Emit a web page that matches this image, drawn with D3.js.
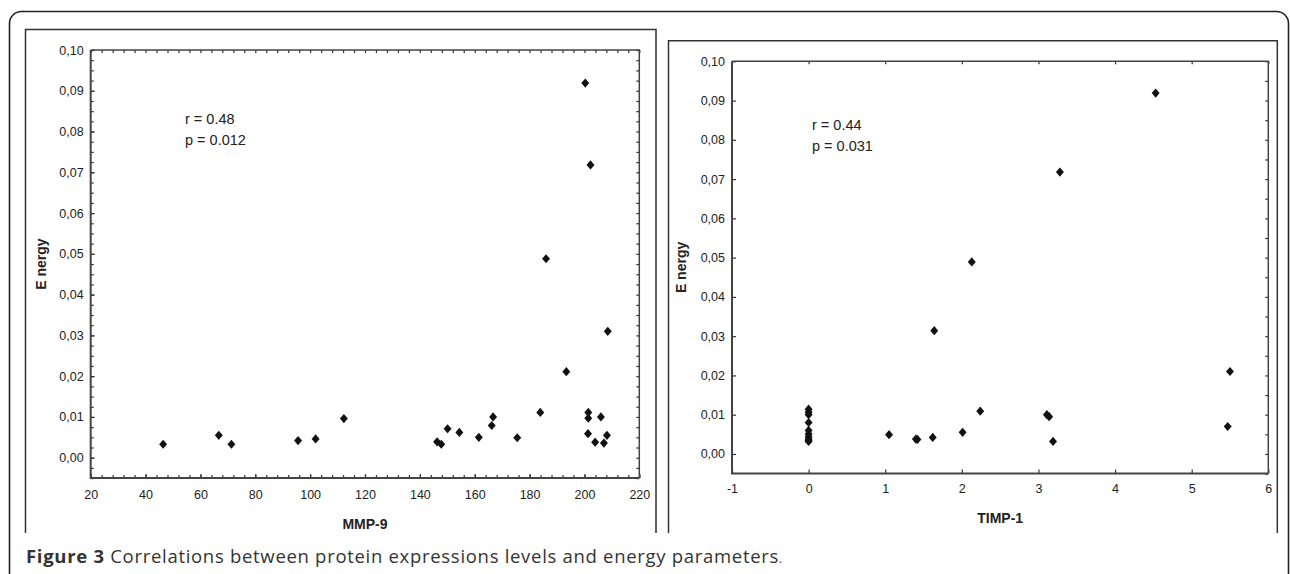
<!DOCTYPE html>
<html>
<head>
<meta charset="utf-8">
<script src="https://cdn.jsdelivr.net/npm/d3@7"></script>
<style>
  body { margin: 0; background: #fff; }
  svg { display: block; }
  .tick text { font-family: "Liberation Sans", Arial, sans-serif; font-size: 12.5px; fill: #222; }
  .tick line { stroke: #333; stroke-width: 1.2; }
</style>
</head>
<body>
<svg width="1290" height="574"></svg>
<script>
// MMP-9 vs energy (left panel)
var mmp9 = [46.4, 66.7, 71.3, 95.6, 102.0, 112.3, 146.3, 147.8, 150.1, 154.4, 161.5, 166.2, 166.7, 175.5,
  183.9, 193.4, 201.4, 201.4, 201.3, 203.9, 206.0, 207.1, 208.2, 208.5, 200.3, 202.2, 186.0];
var energyA = [0.0033, 0.0055, 0.0033, 0.0042, 0.0046, 0.0096, 0.0039, 0.0033, 0.0071, 0.0062, 0.0050, 0.0079, 0.0100, 0.0049,
  0.0111, 0.0211, 0.0111, 0.0097, 0.0059, 0.0038, 0.0100, 0.0036, 0.0055, 0.0310, 0.0919, 0.0718, 0.0488];

// TIMP-1 vs energy (right panel)
var timp1 = [0, 0, 0, 0, 0, 0, 0, 0, 0, 0,
  1.05, 1.40, 1.42, 1.62, 1.64, 2.01, 2.13, 2.24, 3.11, 3.14, 3.19, 3.28, 4.53, 5.47, 5.50];
var energyB = [0.0114, 0.0106, 0.0100, 0.0080, 0.0060, 0.0051, 0.0044, 0.0038, 0.0034, 0.0032,
  0.0049, 0.0038, 0.0037, 0.0042, 0.0314, 0.0055, 0.0489, 0.0109, 0.0100, 0.0095, 0.0032, 0.0718, 0.0919, 0.0070, 0.0210];

var yTicks = [0, 0.01, 0.02, 0.03, 0.04, 0.05, 0.06, 0.07, 0.08, 0.09, 0.10];
var xTicksA = [20, 40, 60, 80, 100, 120, 140, 160, 180, 200, 220];
var xTicksB = [-1, 0, 1, 2, 3, 4, 5, 6];

var statsA = ['r = 0.48', 'p = 0.012'];
var statsB = ['r = 0.44', 'p = 0.031'];

var svg = d3.select('svg');
var commaFmt = function (d) { return d3.format('.2f')(d).replace('.', ','); };

// outer rounded border + panel frames (open at the bottom)
svg.append('rect')
  .attr('x', 9.5).attr('y', 11.5).attr('width', 1279).attr('height', 620).attr('rx', 12)
  .attr('fill', 'none').attr('stroke', '#222').attr('stroke-width', 1.6);
svg.append('path').attr('d', 'M25.5,533V29.5H656V533')
  .attr('fill', 'none').attr('stroke', '#333').attr('stroke-width', 1.5);
svg.append('path').attr('d', 'M668.5,533V40.7H1277.3V533')
  .attr('fill', 'none').attr('stroke', '#333').attr('stroke-width', 1.5);

// diamond marker
var diamond = {
  draw: function (ctx, size) {
    var r = Math.sqrt(size) / 2;
    ctx.moveTo(0, -r * 1.1); ctx.lineTo(r * 0.95, 0); ctx.lineTo(0, r * 1.1); ctx.lineTo(-r * 0.95, 0); ctx.closePath();
  }
};
var sym = d3.symbol().type(diamond).size(70);

function drawPlot(cfg) {
  var x = cfg.x, y = cfg.y;
  var x0 = x.range()[0], x1 = x.range()[1], yb = y.range()[0], yt = y.range()[1];
  var g = svg.append('g');

  // major axes with labels, inward ticks
  g.append('g').attr('transform', 'translate(' + x0 + ',0)')
    .call(d3.axisLeft(y).tickValues(yTicks).tickFormat(commaFmt).tickSizeInner(-4).tickSizeOuter(0).tickPadding(7))
    .call(function (s) { s.select('.domain').remove(); });
  g.append('g').attr('transform', 'translate(0,' + yb + ')')
    .call(d3.axisBottom(x).tickValues(cfg.xTicks).tickFormat(function (d) { return String(d); })
      .tickSizeInner(-4).tickSizeOuter(0).tickPadding(cfg.xPad))
    .call(function (s) { s.select('.domain').remove(); });
  g.append('g').attr('transform', 'translate(0,' + yt + ')')
    .call(d3.axisTop(x).tickValues(cfg.topTicks).tickFormat('').tickSize(-3).tickSizeOuter(0))
    .call(function (s) { s.select('.domain').remove(); });
  g.append('g').attr('transform', 'translate(' + x1 + ',0)')
    .call(d3.axisRight(y).tickValues(cfg.rightTicks).tickFormat('').tickSize(-3).tickSizeOuter(0))
    .call(function (s) { s.select('.domain').remove(); });
  if (cfg.minorY) {
    g.append('g').attr('transform', 'translate(' + x0 + ',0)')
      .call(d3.axisLeft(y).tickValues(cfg.minorY).tickFormat('').tickSize(-3).tickSizeOuter(0))
      .call(function (s) { s.select('.domain').remove(); });
  }
  if (cfg.minorX) {
    g.append('g').attr('transform', 'translate(0,' + yb + ')')
      .call(d3.axisBottom(x).tickValues(cfg.minorX).tickFormat('').tickSize(-3).tickSizeOuter(0))
      .call(function (s) { s.select('.domain').remove(); });
  }

  // plot frame
  g.append('path')
    .attr('d', 'M' + x0 + ',' + yt + 'H' + x1 + 'V' + yb)
    .attr('fill', 'none').attr('stroke', '#444').attr('stroke-width', 1.5);
  g.append('path')
    .attr('d', 'M' + x0 + ',' + yt + 'V' + yb + 'H' + x1)
    .attr('fill', 'none').attr('stroke', '#444').attr('stroke-width', 2);

  // points
  g.selectAll('path.pt')
    .data(cfg.xs.map(function (v, i) { return [v, cfg.ys[i]]; }))
    .enter().append('path')
    .attr('class', 'pt')
    .attr('transform', function (d) { return 'translate(' + x(d[0]) + ',' + y(d[1]) + ')'; })
    .attr('d', sym)
    .attr('fill', '#111');

  // r / p annotation
  g.selectAll('text.stat')
    .data(cfg.stats)
    .enter().append('text')
    .attr('class', 'stat')
    .attr('x', cfg.statX)
    .attr('y', function (d, i) { return cfg.statY + i * 21; })
    .attr('font-family', '"Liberation Sans", Arial, sans-serif')
    .attr('font-size', 14.5)
    .attr('fill', '#222')
    .text(function (d) { return d; });

  // axis titles
  g.append('text')
    .attr('x', (x0 + x1) / 2).attr('y', cfg.xTitleY)
    .attr('text-anchor', 'middle')
    .attr('font-family', '"Liberation Sans", Arial, sans-serif')
    .attr('font-weight', 'bold').attr('font-size', 14).attr('fill', '#222')
    .text(cfg.xTitle);
  g.append('text')
    .attr('transform', 'translate(' + cfg.yTitleX + ',' + (yb + yt) / 2 + ') rotate(-90)')
    .attr('text-anchor', 'middle')
    .attr('font-family', '"Liberation Sans", Arial, sans-serif')
    .attr('font-weight', 'bold').attr('font-size', 14).attr('fill', '#222')
    .text('E nergy');
}

drawPlot({
  x: d3.scaleLinear().domain([20, 220]).range([90.7, 639.3]),
  y: d3.scaleLinear().domain([-0.005, 0.10]).range([478.1, 50]),
  xTicks: xTicksA, xPad: 12,
  topTicks: d3.range(20, 221, 4),
  minorX: d3.range(20, 221, 4),
  rightTicks: d3.range(-0.005, 0.1001, 0.0025),
  minorY: d3.range(-0.005, 0.1001, 0.0025),
  xs: mmp9, ys: energyA,
  stats: statsA, statX: 185, statY: 124,
  xTitle: 'MMP-9', xTitleY: 529, yTitleX: 46
});

drawPlot({
  x: d3.scaleLinear().domain([-1, 6]).range([732, 1268.3]),
  y: d3.scaleLinear().domain([-0.005, 0.10]).range([473.6, 61.3]),
  xTicks: xTicksB, xPad: 11,
  topTicks: xTicksB,
  minorX: null,
  rightTicks: d3.range(-0.005, 0.1001, 0.005),
  minorY: null,
  xs: timp1, ys: energyB,
  stats: statsB, statX: 812, statY: 129.5,
  xTitle: 'TIMP-1', xTitleY: 523, yTitleX: 686
});

// caption
var cap = svg.append('text')
  .attr('x', 26).attr('y', 563)
  .attr('font-family', '"Open Sans", "Noto Sans", sans-serif')
  .attr('font-size', 18.5).attr('letter-spacing', 0.7).attr('fill', '#333');
cap.append('tspan').attr('font-weight', 'bold').text('Figure 3');
cap.append('tspan').text(' Correlations between protein expressions levels and energy parameters');
cap.append('tspan').attr('font-size', 12).text('.');
</script>
</body>
</html>
